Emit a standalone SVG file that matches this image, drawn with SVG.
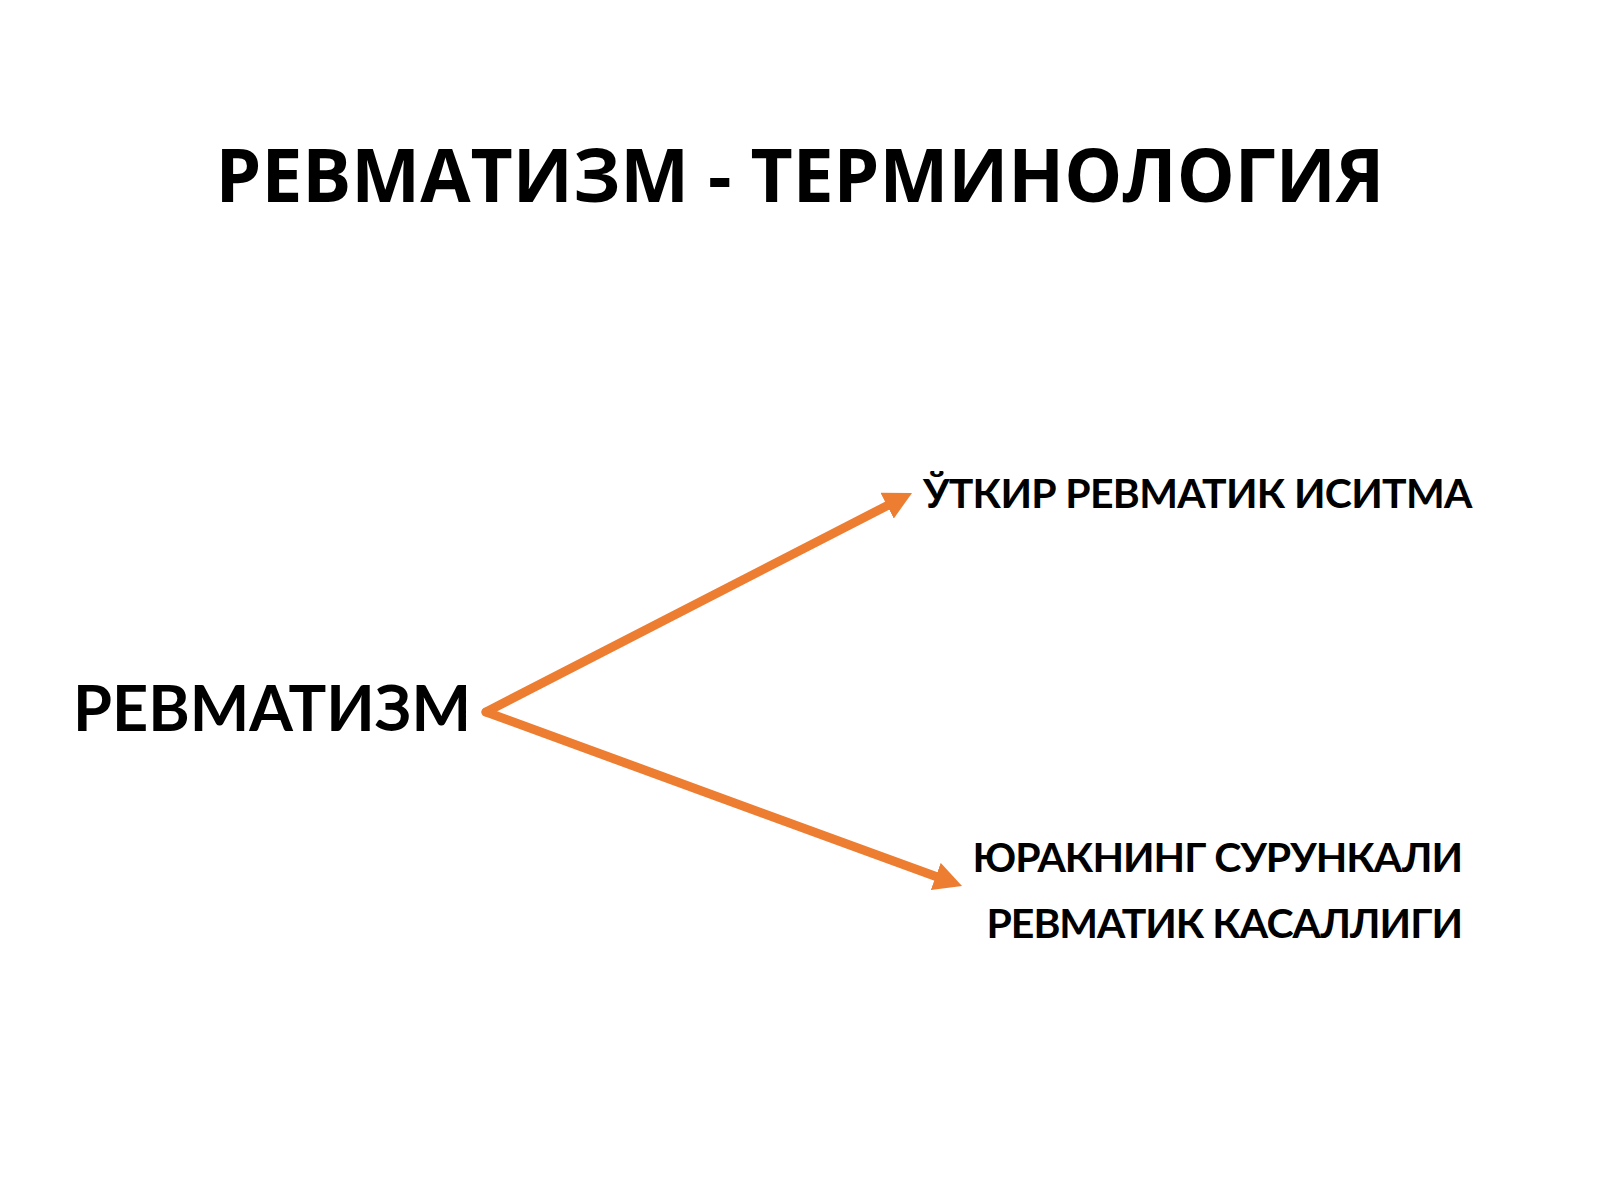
<svg xmlns="http://www.w3.org/2000/svg" width="1600" height="1200" viewBox="0 0 1600 1200">
<style>
.title{font-family:"Open Sans","Liberation Sans",sans-serif;font-weight:700;font-size:73px;fill:#000}
.main{font-family:Lato,"Liberation Sans",sans-serif;font-weight:700;font-size:63px;fill:#000}
.lbl{font-family:Lato,"Liberation Sans",sans-serif;font-weight:700;font-size:41px;letter-spacing:-1px;fill:#000}
.conn{stroke:#ED7D31;stroke-width:9;fill:none;stroke-linecap:round}
</style>
<defs>
<marker id="ah" viewBox="0 0 28 29" refX="12" refY="14.5" markerWidth="28" markerHeight="29" orient="auto" markerUnits="userSpaceOnUse">
<path d="M0,0 L28,14.5 L0,29 z" fill="#ED7D31"/>
</marker>
</defs>
<rect width="1600" height="1200" fill="#fff"/>
<g id="title"><text class="title" x="800" y="202" text-anchor="middle">РЕВМАТИЗМ - ТЕРМИНОЛОГИЯ</text></g>
<g id="connectors">
<line class="conn" x1="486" y1="712" x2="897.8" y2="500.2" marker-end="url(#ah)"/>
<line class="conn" x1="486" y1="712" x2="947" y2="880.6" marker-end="url(#ah)"/>
</g>
<g id="node-main"><text class="main" x="73" y="731">РЕВМАТИЗМ</text></g>
<g id="node-acute"><text class="lbl" x="923" y="508" style="letter-spacing:-0.7px">ЎТКИР РЕВМАТИК ИСИТМА</text></g>
<g id="node-chronic">
<text class="lbl" x="1462" y="872" text-anchor="end">ЮРАКНИНГ СУРУНКАЛИ</text>
<text class="lbl" x="1462" y="938" text-anchor="end">РЕВМАТИК КАСАЛЛИГИ</text>
</g>
</svg>
